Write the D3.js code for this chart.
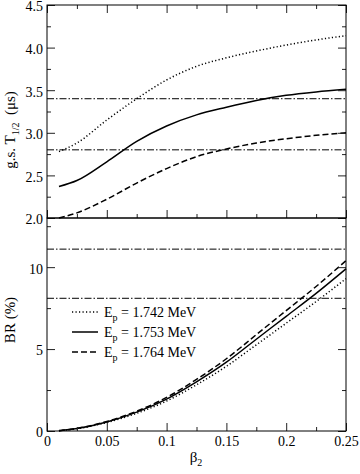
<!DOCTYPE html>
<html>
<head>
<meta charset="utf-8">
<script src="https://cdn.jsdelivr.net/npm/d3@7/dist/d3.min.js"></script>
<style>
  body { margin: 0; background: #fff; }
  svg { display: block; }
  text { font-family: "Liberation Serif", "Times New Roman", serif; fill: #000; }
</style>
</head>
<body>
<div class="chart"></div>
<script>
// beta2 values where the curves were read
var beta = [0.01, 0.025, 0.05, 0.075, 0.1, 0.125, 0.15, 0.175, 0.2, 0.225, 0.25];

// ground state half-life (us), one list per proton energy
var halfLife1742 = [2.78, 2.88, 3.15, 3.40, 3.62, 3.78, 3.88, 3.96, 4.03, 4.09, 4.14];
var halfLife1753 = [2.37, 2.44, 2.66, 2.90, 3.08, 3.21, 3.30, 3.38, 3.44, 3.48, 3.51];
var halfLife1764 = [2.00, 2.06, 2.22, 2.41, 2.58, 2.72, 2.81, 2.88, 2.93, 2.97, 3.00];

// branching ratio (%)
var br1742 = [0.02, 0.14, 0.52, 1.08, 1.83, 2.82, 3.95, 5.26, 6.58, 7.90, 9.30];
var br1753 = [0.02, 0.15, 0.55, 1.15, 1.95, 3.00, 4.20, 5.60, 7.00, 8.40, 9.90];
var br1764 = [0.02, 0.16, 0.58, 1.21, 2.05, 3.15, 4.41, 5.88, 7.35, 8.82, 10.40];

// experimental reference levels (dash-dot lines)
var refHalfLife = [2.8, 3.4];
var refBR = [8.1, 11.1];

var legendEnergies = ["1.742", "1.753", "1.764"];

var xTicks = [0, 0.05, 0.1, 0.15, 0.2, 0.25];
var xMinorTicks = [0.025, 0.075, 0.125, 0.175, 0.225];
var topYTicks = [2.0, 2.5, 3.0, 3.5, 4.0, 4.5];
var topYMinor = [2.25, 2.75, 3.25, 3.75, 4.25];
var botYTicks = [0, 5, 10];
var botYMinor = [2.5, 7.5, 12.5];

var svgWidth = 360;
var svgHeight = 474;
var serif = "'Liberation Serif', 'Times New Roman', serif";

var svg = d3.select(".chart")
  .append("svg")
  .attr("width", svgWidth)
  .attr("height", svgHeight);

var left = 47, right = 346;
var topY0 = 5, mid = 218, botY1 = 431;

var xScale = d3.scaleLinear().domain([0, 0.25]).range([left, right]);
var yTop = d3.scaleLinear().domain([2, 4.5]).range([mid, topY0]);
var yBot = d3.scaleLinear().domain([0, 13]).range([botY1, mid]);

// styles for the three energies: dotted, solid, dashed
var dashes = ["1.2,2.3", null, "6,3"];

function drawAxes(yScale, yMajor, yMinor, yFmt, top, bottom, withTopTicks, withXLabels) {
  var g = svg.append("g");

  // y axis left (labels) and right (no labels), ticks pointing inwards
  g.append("g").attr("class", "y-labels").attr("transform", `translate(${left},0)`)
    .call(d3.axisLeft(yScale).tickValues(yMajor).tickSize(-8).tickPadding(4).tickFormat(yFmt));
  g.append("g").attr("transform", `translate(${left},0)`)
    .call(d3.axisLeft(yScale).tickValues(yMinor).tickSize(-4).tickFormat(""));
  g.append("g").attr("transform", `translate(${right},0)`)
    .call(d3.axisRight(yScale).tickValues(yMajor).tickSize(-8).tickFormat(""));
  g.append("g").attr("transform", `translate(${right},0)`)
    .call(d3.axisRight(yScale).tickValues(yMinor).tickSize(-4).tickFormat(""));

  // x axis bottom
  g.append("g").attr("transform", `translate(0,${bottom})`)
    .call(d3.axisBottom(xScale).tickValues(xTicks).tickSize(-8).tickPadding(5)
      .tickFormat(withXLabels ? d3.format("") : ""));
  g.append("g").attr("transform", `translate(0,${bottom})`)
    .call(d3.axisBottom(xScale).tickValues(xMinorTicks).tickSize(-4).tickFormat(""));

  if (withTopTicks) {
    g.append("g").attr("transform", `translate(0,${top})`)
      .call(d3.axisTop(xScale).tickValues(xTicks).tickSize(-8).tickFormat(""));
    g.append("g").attr("transform", `translate(0,${top})`)
      .call(d3.axisTop(xScale).tickValues(xMinorTicks).tickSize(-4).tickFormat(""));
  }

  g.selectAll(".domain").remove();
  g.selectAll(".tick line").attr("stroke", "#222");
  g.selectAll("g").attr("font-family", serif).attr("font-size", 14);
  g.selectAll(".tick text").attr("font-family", serif).attr("font-size", 14).attr("fill", "#000");
  // labels sit a touch below their tick, as in the original
  g.selectAll(".y-labels .tick text").attr("dy", "0.42em");

  // frame
  g.append("rect")
    .attr("x", left).attr("y", top)
    .attr("width", right - left).attr("height", bottom - top)
    .attr("fill", "none").attr("stroke", "#000").attr("stroke-width", 1);
}

function drawRefs(yScale, levels) {
  svg.selectAll(null)
    .data(levels)
    .enter()
    .append("line")
    .attr("x1", left).attr("x2", right)
    .attr("y1", d => yScale(d)).attr("y2", d => yScale(d))
    .attr("stroke", "#000")
    .attr("stroke-width", 1)
    .attr("stroke-dasharray", "7,2,1.5,2");
}

function drawCurves(yScale, seriesList) {
  var line = d3.line()
    .x((d, i) => xScale(beta[i]))
    .y(d => yScale(d))
    .curve(d3.curveMonotoneX);

  seriesList.forEach(function(vals, i) {
    svg.append("path")
      .attr("d", line(vals))
      .attr("fill", "none")
      .attr("stroke", "#000")
      .attr("stroke-width", 1.5)
      .attr("stroke-dasharray", dashes[i]);
  });
}

// top panel
drawRefs(yTop, refHalfLife);
drawCurves(yTop, [halfLife1742, halfLife1753, halfLife1764]);
drawAxes(yTop, topYTicks, topYMinor, d3.format(".1f"), topY0, mid, true, false);

// bottom panel
drawRefs(yBot, refBR);
drawCurves(yBot, [br1742, br1753, br1764]);
drawAxes(yBot, botYTicks, botYMinor, d3.format("d"), mid, botY1, false, true);

// axis labels
var yl1 = svg.append("text")
  .attr("transform", "translate(15,130) rotate(-90)")
  .attr("text-anchor", "middle")
  .attr("font-size", 15);
yl1.append("tspan").text("g.s. T");
yl1.append("tspan").attr("dy", 4).attr("font-size", 10).text("1/2");
yl1.append("tspan").attr("dy", -4).text("\u00a0\u00a0(\u03bcs)");

svg.append("text")
  .attr("transform", "translate(15,320) rotate(-90)")
  .attr("text-anchor", "middle")
  .attr("font-size", 15)
  .text("BR (%)");

var xl = svg.append("text")
  .attr("x", 196).attr("y", 462)
  .attr("text-anchor", "middle")
  .attr("font-size", 15);
xl.append("tspan").text("\u03b2");
xl.append("tspan").attr("dy", 4).attr("font-size", 10).text("2");

// legend
var legend = svg.append("g");
legendEnergies.forEach(function(e, i) {
  var ly = 312 + i * 20;
  legend.append("line")
    .attr("x1", 72).attr("x2", 98)
    .attr("y1", ly).attr("y2", ly)
    .attr("stroke", "#000")
    .attr("stroke-width", 1.5)
    .attr("stroke-dasharray", dashes[i]);
  var t = legend.append("text")
    .attr("x", 104).attr("y", ly + 4.5)
    .attr("font-size", 14);
  t.append("tspan").text("E");
  t.append("tspan").attr("dy", 4).attr("font-size", 10).text("p");
  t.append("tspan").attr("dy", -4).text(" = " + e + " MeV");
});
</script>
</body>
</html>
